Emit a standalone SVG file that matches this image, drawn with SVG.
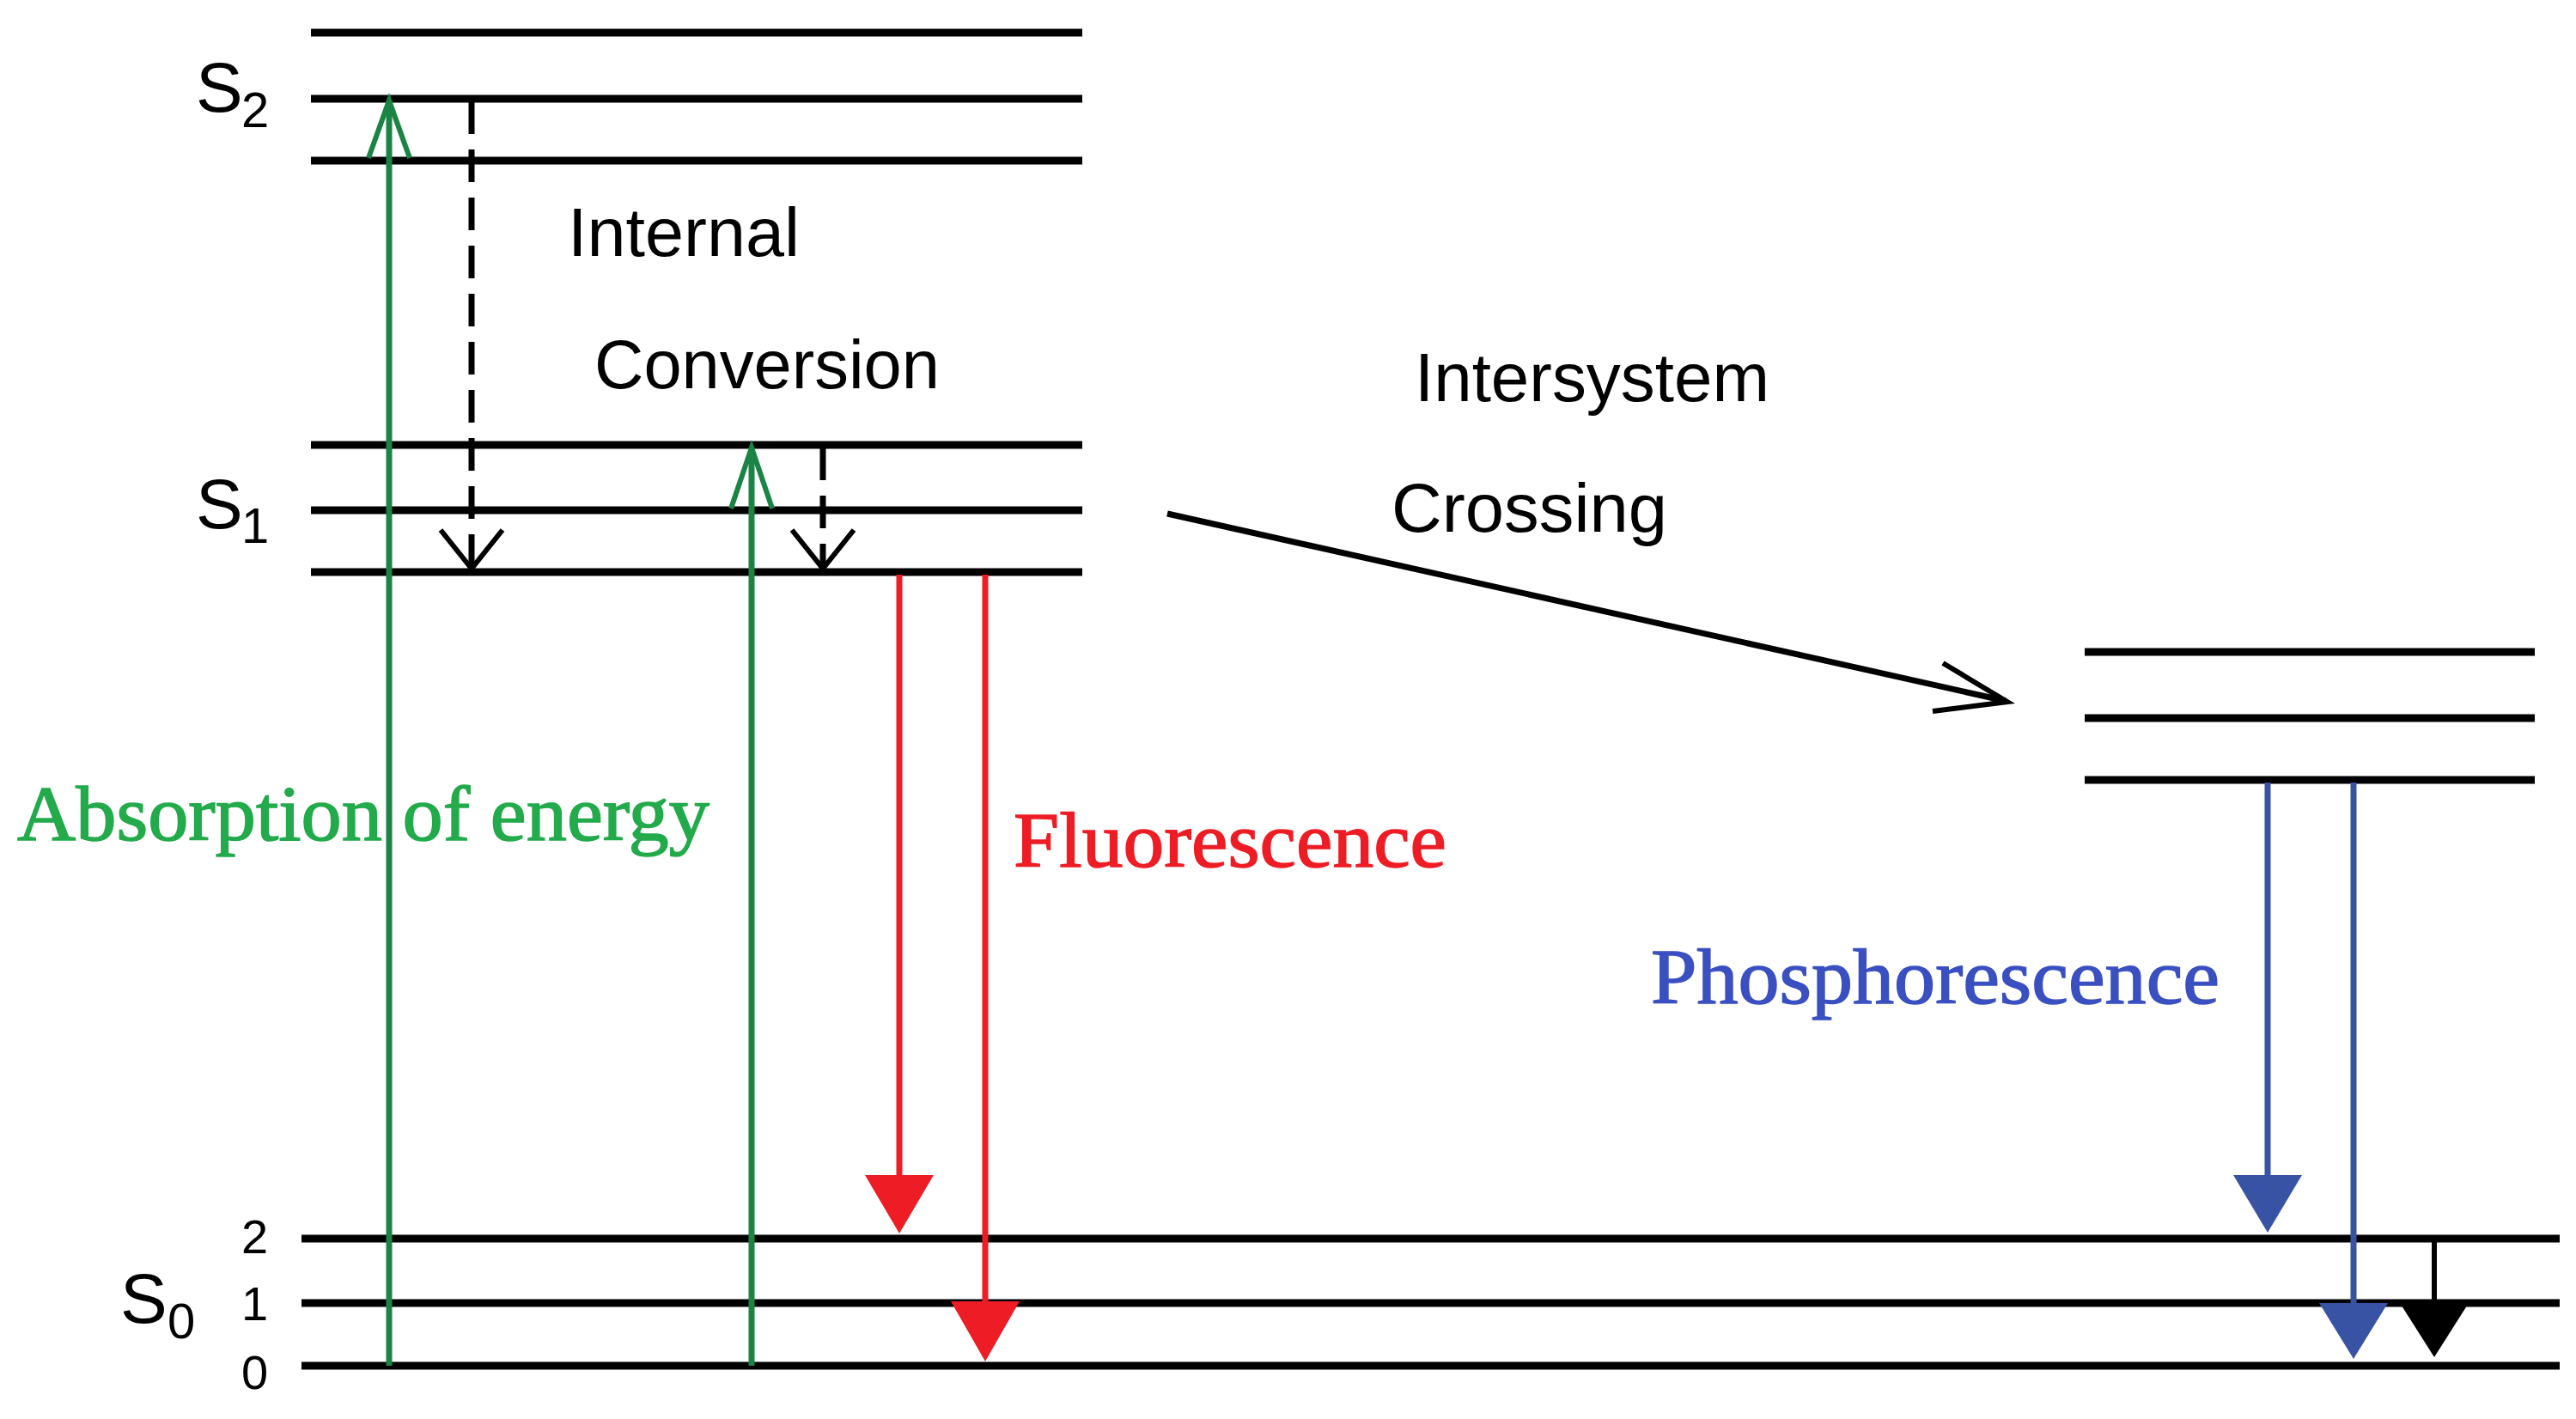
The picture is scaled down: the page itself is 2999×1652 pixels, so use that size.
<svg xmlns="http://www.w3.org/2000/svg" width="2999" height="1652" viewBox="0 0 2999 1652">
<style>
.lvl{stroke:#000;stroke-width:9;fill:none}
.sans{font-family:"Liberation Sans",Arial,sans-serif;fill:#000}
.serif{font-family:"Liberation Serif","Times New Roman",serif;font-weight:normal;stroke-width:1.5}
.open{fill:none;stroke-width:6;stroke-linejoin:miter}
</style>
<rect width="2999" height="1652" fill="#fff"/>
<g id="S2">
<line class="lvl" x1="362" y1="38" x2="1260" y2="38"/>
<line class="lvl" x1="362" y1="115" x2="1260" y2="115"/>
<line class="lvl" x1="362" y1="187" x2="1260" y2="187"/>
<text class="sans" x="228" y="130" font-size="82">S</text>
<text class="sans" x="281" y="148" font-size="58">2</text>
</g>
<g id="S1">
<line class="lvl" x1="362" y1="518" x2="1260" y2="518"/>
<line class="lvl" x1="362" y1="594" x2="1260" y2="594"/>
<line class="lvl" x1="362" y1="666" x2="1260" y2="666"/>
<text class="sans" x="228" y="615" font-size="82">S</text>
<text class="sans" x="281" y="632" font-size="58">1</text>
</g>
<g id="T1">
<line class="lvl" x1="2427" y1="759" x2="2951" y2="759"/>
<line class="lvl" x1="2427" y1="836" x2="2951" y2="836"/>
<line class="lvl" x1="2427" y1="908" x2="2951" y2="908"/>
</g>
<g id="S0">
<line class="lvl" x1="351" y1="1442" x2="2980" y2="1442"/>
<line class="lvl" x1="351" y1="1517" x2="2980" y2="1517"/>
<line class="lvl" x1="351" y1="1590" x2="2980" y2="1590"/>
<text class="sans" x="140" y="1540" font-size="82">S</text>
<text class="sans" x="195" y="1558" font-size="58">0</text>
<text class="sans" x="281" y="1459" font-size="56">2</text>
<text class="sans" x="281" y="1537" font-size="56">1</text>
<text class="sans" x="281" y="1617" font-size="56">0</text>
</g>
<g id="labels">
<text class="sans" x="661" y="298" font-size="80" textLength="270" lengthAdjust="spacingAndGlyphs">Internal</text>
<text class="sans" x="692" y="452" font-size="80" textLength="402" lengthAdjust="spacingAndGlyphs">Conversion</text>
<text class="sans" x="1647" y="467" font-size="80" textLength="413" lengthAdjust="spacingAndGlyphs">Intersystem</text>
<text class="sans" x="1620" y="619" font-size="80" textLength="321" lengthAdjust="spacingAndGlyphs">Crossing</text>
<text class="serif" x="20" y="978" font-size="92" fill="#22aa4b" stroke="#22aa4b" textLength="806" lengthAdjust="spacingAndGlyphs">Absorption of energy</text>
<text class="serif" x="1180" y="1009" font-size="92" fill="#ee1c24" stroke="#ee1c24" textLength="504" lengthAdjust="spacingAndGlyphs">Fluorescence</text>
<text class="serif" x="1922" y="1168" font-size="92" fill="#3a4fc0" stroke="#3a4fc0" textLength="662" lengthAdjust="spacingAndGlyphs">Phosphorescence</text>
</g>
<g id="connectors">
<line x1="453" y1="1590" x2="453" y2="117" stroke="#1a8445" stroke-width="7"/>
<polyline class="open" stroke="#1a8445" points="429,184 453,117 477,184"/>
<line x1="875" y1="1590" x2="875" y2="521" stroke="#1a8445" stroke-width="7"/>
<polyline class="open" stroke="#1a8445" points="851,592 875,521 899,592"/>
<line x1="549" y1="118" x2="549" y2="660" stroke="#000" stroke-width="7" stroke-dasharray="38,18"/>
<polyline class="open" stroke="#000" stroke-width="7" points="513,617 549,662 585,617"/>
<line x1="958" y1="521" x2="958" y2="660" stroke="#000" stroke-width="7" stroke-dasharray="38,18"/>
<polyline class="open" stroke="#000" stroke-width="7" points="922,617 958,662 994,617"/>
<line x1="1047" y1="669" x2="1047" y2="1370" stroke="#ee1c24" stroke-width="7"/>
<polygon fill="#ee1c24" points="1007,1368 1087,1368 1047,1436"/>
<line x1="1147" y1="669" x2="1147" y2="1517" stroke="#ee1c24" stroke-width="7"/>
<polygon fill="#ee1c24" points="1107,1515 1187,1515 1147,1585"/>
<line x1="1359" y1="598" x2="2335" y2="816" stroke="#000" stroke-width="7"/>
<polyline class="open" stroke="#000" stroke-width="8" points="2262,772 2337,817 2250,828"/>
<line x1="2640" y1="911" x2="2640" y2="1370" stroke="#3953a4" stroke-width="7"/>
<polygon fill="#3953a4" points="2600,1368 2680,1368 2640,1435"/>
<line x1="2740" y1="911" x2="2740" y2="1518" stroke="#3953a4" stroke-width="7"/>
<polygon fill="#3953a4" points="2700,1517 2780,1517 2740,1582"/>
<line x1="2834" y1="1445" x2="2834" y2="1520" stroke="#000" stroke-width="6"/>
<polygon fill="#000" points="2794,1517 2874,1517 2834,1580"/>
</g>
</svg>
